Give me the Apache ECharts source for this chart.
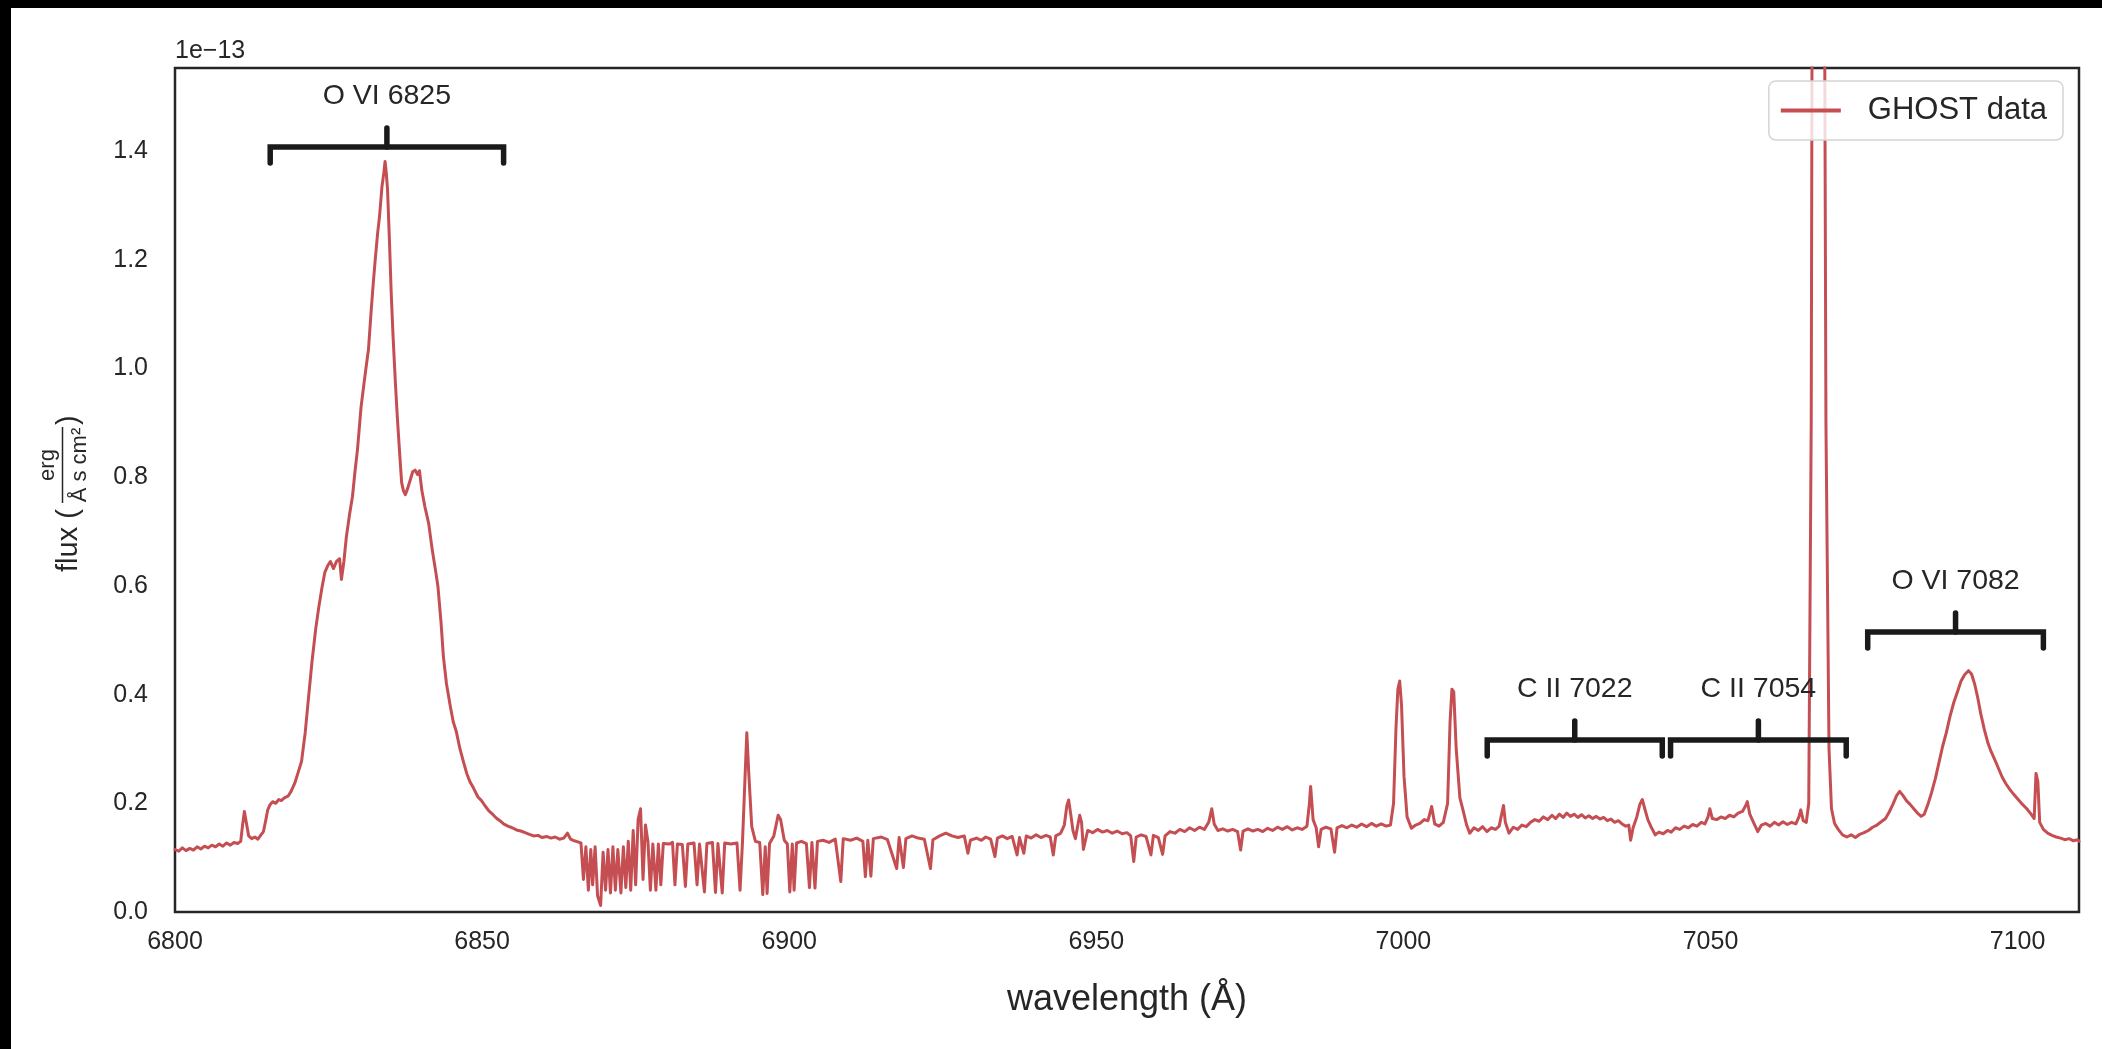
<!DOCTYPE html>
<html>
<head>
<meta charset="utf-8">
<script src="https://cdn.jsdelivr.net/npm/echarts/dist/echarts.min.js"></script>
<style>
html,body{margin:0;padding:0;background:#fff;overflow:hidden;width:2102px;height:1049px;}
#chart{position:absolute;left:0;top:0;width:2102px;height:1049px;}
#bandTop{position:absolute;left:0;top:0;width:2102px;height:8px;background:#000;z-index:5;}
#bandLeft{position:absolute;left:0;top:0;width:11px;height:1049px;background:#000;z-index:5;}
</style>
</head>
<body>
<div id="chart"></div>
<div id="bandTop"></div>
<div id="bandLeft"></div>
<script>
// ---------------- data (flux in units of 1e-13 erg / (Å s cm²)) ----------------
var wavelength = [
  // continuum + O VI 6825 blue side
  6800.0,6800.6,6801.2,6801.8,6802.4,6803.0,6803.6,6804.2,6804.8,6805.4,
  6806.0,6806.6,6807.2,6807.8,6808.4,6809.0,6809.6,6810.2,6810.7,6811.0,
  6811.3,6811.6,6812.0,6812.5,6813.0,6813.5,6814.0,6814.4,6814.8,6815.1,
  6815.5,6815.9,6816.4,6816.9,6817.3,6817.8,6818.4,6818.9,6819.5,6820.0,
  6820.6,
  // O VI 6825 peak
  6821.2,6821.7,6822.3,6822.9,6823.4,6823.9,6824.4,6824.9,6825.3,6825.8,
  6826.3,6826.8,6827.1,6827.5,6827.9,6828.4,6828.9,6829.3,6829.7,6830.3,
  6830.8,6831.2,6831.5,6831.9,6832.3,6832.6,6833.0,6833.3,6833.7,6834.0,
  6834.2,6834.4,6834.6,6834.9,6835.2,6835.5,6835.9,6836.2,6836.6,6836.9,
  6837.2,6837.5,6837.9,6838.3,6838.7,6839.1,6839.5,6839.8,6840.2,6840.7,
  6841.3,6841.9,6842.4,6842.8,6843.3,6843.7,6844.2,
  // red wing
  6844.8,6845.3,6845.8,6846.4,6847.0,6847.5,6848.0,6848.6,6849.3,6849.9,
  6850.5,6851.1,6851.7,6852.3,6852.9,6853.5,6854.2,6854.9,6855.6,6856.3,
  6857.0,6857.7,6858.4,6859.1,6859.8,6860.5,6861.2,6861.9,6862.6,6863.3,
  6863.9,6864.4,6865.0,6865.6,6866.1,
  // telluric band
  6866.5,6866.9,6867.3,6867.7,6868.0,6868.4,6868.8,6869.3,6869.7,6870.1,
  6870.5,6870.9,6871.3,6871.7,6872.1,6872.6,6873.0,6873.4,6873.8,6874.2,
  6874.6,6875.0,6875.4,6875.8,6876.2,6876.6,6877.0,6877.4,6877.8,6878.3,
  6878.7,6879.1,6879.5,6880.5,6881.0,6881.4,6881.8,6882.6,6883.1,6883.5,
  6884.5,6885.0,6885.4,6886.2,6886.6,6887.5,6888.0,6888.4,6889.1,6889.5,
  6890.5,6891.5,6892.0,6892.4,6892.8,6893.1,6893.4,6893.9,6894.5,6895.2,
  6895.7,6896.1,6896.4,6896.8,6897.5,6898.2,6898.6,6899.2,6899.7,6900.1,
  6900.5,6900.8,6901.2,6902.0,6902.8,6903.3,6903.7,6904.2,6904.6,6905.5,
  6906.5,6907.5,6908.4,6908.8,6910.0,6911.0,6912.0,6912.4,6912.8,6913.3,
  6913.7,6915.0,6916.0,6917.5,6917.9,6918.6,6919.0,6920.0,6921.0,6922.0,
  6923.0,6923.4,6924.5,6925.5,6926.5,6927.5,6928.5,6929.1,6929.5,6930.5,
  // continuum 6930-6997
  6931.3,6932.0,6932.8,6933.5,6933.9,6934.7,6935.5,6936.3,6937.1,6937.5,
  6938.2,6938.6,6939.4,6940.2,6941.0,6941.8,6942.5,6943.0,6943.4,6944.2,
  6944.8,6945.2,6945.5,6945.9,6946.2,6946.6,6947.0,6947.3,6947.6,6947.9,
  6948.6,6949.4,6950.2,6951.0,6951.8,6952.6,6953.4,6954.2,6955.0,6955.6,
  6956.1,6956.5,6957.3,6958.1,6958.9,6959.3,6960.1,6960.8,6961.2,6962.0,
  6962.8,6963.6,6964.4,6965.2,6966.0,6966.8,6967.6,6968.3,6968.8,6969.2,
  6969.8,6970.6,6971.4,6972.2,6973.0,6973.5,6973.9,6974.7,6975.5,6976.3,
  6977.1,6977.9,6978.7,6979.5,6980.3,6981.1,6981.9,6982.7,6983.5,6984.3,
  6984.7,6984.9,6985.3,6985.8,6986.2,6986.6,6987.4,6988.2,6988.8,6989.2,
  6990.0,6990.8,6991.6,6992.4,6993.2,6994.0,6994.8,6995.6,6996.4,6997.2,
  // 7000 / 7008 lines, C II region
  6997.9,6998.4,6998.8,6999.1,6999.4,6999.7,7000.1,7000.6,7001.3,7002.0,
  7002.7,7003.4,7004.0,7004.6,7005.1,7005.8,7006.5,7007.2,7007.6,7007.9,
  7008.2,7008.6,7009.2,7009.7,7010.3,7010.8,7011.5,7012.2,7012.9,7013.6,
  7014.3,7015.0,7015.6,7016.0,7016.3,7016.6,7017.2,7017.9,7018.6,7019.3,
  7020.0,7020.7,7021.4,7022.1,7022.8,7023.5,7024.2,7024.8,7025.4,7026.0,
  7026.6,7027.2,7027.8,7028.4,7029.0,7029.6,7030.2,7030.8,7031.4,7032.0,
  7032.6,7033.2,7033.8,7034.4,7035.0,7035.6,7036.2,7036.7,7037.0,7037.4,
  7038.0,7038.5,7038.9,7039.3,7039.8,7040.4,7041.0,7041.6,7042.3,7043.0,
  7043.6,7044.3,7045.0,7045.7,7046.4,7047.1,7047.8,7048.5,7049.1,7049.6,
  7049.9,7050.3,7051.0,7051.7,7052.4,7053.1,7053.8,7054.5,7055.2,7055.7,
  7056.0,7056.4,7057.0,7057.7,7058.3,7059.0,7059.7,7060.4,7061.1,7061.8,
  7062.5,7063.2,7063.9,7064.4,7064.7,7065.1,7065.6,7066.0,
  // saturated line + O VI 7082
  7066.4,7066.8,7068.2,7068.8,7069.3,7069.7,7070.2,7070.8,7071.5,7072.2,
  7072.9,7073.6,7074.3,7075.0,7075.7,7076.4,7077.1,7077.8,7078.5,7079.1,
  7079.7,7080.3,7080.8,7081.3,7081.9,7082.5,7083.1,7083.7,7084.3,7084.8,
  7085.4,7086.0,7086.6,7087.2,7087.8,7088.4,7089.0,7089.6,7090.2,7090.8,
  7091.4,7092.0,7092.5,7093.0,7093.5,7094.0,7094.6,7095.2,7095.7,7096.3,
  7096.9,7097.5,7098.1,7098.7,7099.4,7100.1,7100.8,7101.5,7102.2,7102.7,
  7103.0,7103.3,7103.6,7104.2,7104.9,7105.6,7106.3,7107.0,7107.7,7108.4,
  7109.1,7109.8,7110.0
];

var flux = [
  0.115,0.112,0.118,0.113,0.117,0.114,0.12,0.116,0.121,0.118,
  0.123,0.12,0.125,0.121,0.127,0.123,0.128,0.126,0.13,0.16,
  0.185,0.165,0.14,0.135,0.138,0.134,0.142,0.148,0.17,0.188,
  0.198,0.203,0.2,0.207,0.205,0.21,0.213,0.222,0.237,0.255,
  0.277,
  0.33,0.39,0.46,0.52,0.56,0.595,0.625,0.638,0.645,0.632,
  0.645,0.65,0.612,0.645,0.69,0.73,0.765,0.81,0.85,0.93,
  0.975,1.01,1.035,1.1,1.16,1.2,1.25,1.28,1.335,1.36,
  1.381,1.36,1.33,1.24,1.14,1.06,0.97,0.91,0.84,0.79,
  0.775,0.768,0.78,0.795,0.81,0.813,0.805,0.812,0.775,0.745,
  0.715,0.665,0.63,0.6,0.535,0.47,0.42,
  0.38,0.35,0.332,0.3,0.275,0.255,0.24,0.228,0.212,0.205,
  0.195,0.186,0.18,0.173,0.168,0.162,0.158,0.155,0.151,0.149,
  0.146,0.143,0.14,0.141,0.137,0.139,0.136,0.138,0.134,0.136,
  0.145,0.134,0.131,0.129,0.127,
  0.06,0.12,0.04,0.115,0.05,0.12,0.03,0.012,0.11,0.04,
  0.115,0.035,0.12,0.04,0.115,0.035,0.12,0.045,0.13,0.04,
  0.15,0.05,0.17,0.19,0.06,0.16,0.13,0.04,0.125,0.04,
  0.125,0.05,0.126,0.125,0.128,0.05,0.125,0.124,0.047,0.125,
  0.127,0.05,0.125,0.037,0.126,0.128,0.036,0.126,0.035,0.127,
  0.125,0.127,0.04,0.13,0.245,0.33,0.26,0.157,0.13,0.128,
  0.032,0.12,0.034,0.126,0.14,0.178,0.17,0.132,0.125,0.037,
  0.125,0.04,0.127,0.13,0.126,0.045,0.128,0.044,0.13,0.132,
  0.128,0.134,0.056,0.135,0.132,0.136,0.13,0.065,0.132,0.066,
  0.135,0.138,0.133,0.08,0.137,0.082,0.135,0.14,0.136,0.134,
  0.08,0.133,0.14,0.145,0.14,0.137,0.14,0.108,0.132,0.136,
  0.132,0.138,0.134,0.102,0.136,0.14,0.135,0.139,0.105,0.137,
  0.108,0.14,0.136,0.142,0.137,0.141,0.138,0.105,0.14,0.145,
  0.16,0.195,0.206,0.175,0.15,0.135,0.16,0.178,0.165,0.115,
  0.15,0.146,0.152,0.147,0.15,0.145,0.149,0.144,0.146,0.14,
  0.093,0.138,0.142,0.139,0.105,0.141,0.137,0.106,0.14,0.148,
  0.145,0.152,0.148,0.155,0.15,0.156,0.152,0.165,0.19,0.162,
  0.15,0.153,0.149,0.152,0.148,0.114,0.149,0.153,0.149,0.152,
  0.148,0.154,0.15,0.156,0.152,0.157,0.151,0.155,0.152,0.158,
  0.2,0.231,0.17,0.155,0.12,0.152,0.156,0.153,0.11,0.155,
  0.159,0.155,0.16,0.156,0.162,0.157,0.163,0.158,0.162,0.158,
  0.16,0.2,0.34,0.41,0.425,0.38,0.25,0.175,0.154,0.16,
  0.163,0.17,0.168,0.194,0.162,0.158,0.165,0.2,0.35,0.41,
  0.405,0.3,0.21,0.188,0.16,0.145,0.155,0.15,0.157,0.148,
  0.155,0.152,0.158,0.18,0.196,0.165,0.145,0.156,0.152,0.16,
  0.157,0.165,0.17,0.167,0.175,0.17,0.178,0.172,0.18,0.174,
  0.182,0.176,0.18,0.174,0.179,0.173,0.177,0.172,0.176,0.171,
  0.174,0.168,0.171,0.165,0.168,0.162,0.158,0.16,0.132,0.155,
  0.175,0.198,0.207,0.19,0.17,0.155,0.142,0.147,0.144,0.15,
  0.147,0.155,0.152,0.158,0.155,0.161,0.158,0.165,0.162,0.175,
  0.19,0.172,0.17,0.175,0.172,0.178,0.175,0.182,0.185,0.195,
  0.203,0.18,0.165,0.148,0.16,0.163,0.158,0.165,0.16,0.166,
  0.161,0.165,0.162,0.175,0.188,0.168,0.165,0.2,
  0.9,3.0,3.0,0.9,0.3,0.19,0.163,0.152,0.142,0.138,
  0.142,0.137,0.143,0.146,0.15,0.156,0.16,0.166,0.172,0.184,
  0.198,0.214,0.222,0.215,0.205,0.198,0.19,0.182,0.176,0.18,
  0.198,0.22,0.245,0.275,0.305,0.33,0.36,0.385,0.405,0.425,
  0.437,0.444,0.438,0.42,0.395,0.365,0.335,0.31,0.295,0.28,
  0.264,0.248,0.236,0.226,0.216,0.207,0.198,0.19,0.18,0.172,
  0.255,0.24,0.165,0.152,0.145,0.141,0.138,0.136,0.133,0.135,
  0.131,0.133,0.13
];

// line identification brackets
var annLabels     = ['O VI 6825', 'C II 7022', 'C II 7054', 'O VI 7082'];
var annCenters    = [6834.5, 7027.9, 7057.8, 7089.9];
var annHalfWidths = [19.0, 14.25, 14.3, 14.3];
var annLevels     = [1.4075, 0.3165, 0.3165, 0.515];

var xTickValues = [6800, 6850, 6900, 6950, 7000, 7050, 7100];
var yTickValues = [0.0, 0.2, 0.4, 0.6, 0.8, 1.0, 1.2, 1.4];
var seriesName = 'GHOST data';

// ---------------- chart ----------------
var FONT = '"Liberation Sans", Arial, Helvetica, sans-serif';
var TXT = '#262626';
var RED = '#c44e52';

var n = Math.min(wavelength.length, flux.length);
var lineData = [];
for (var i = 0; i < n; i++) lineData.push([wavelength[i], flux[i]]);

var annData = annCenters.map(function (c, i) { return [c, annLevels[i], annHalfWidths[i], i]; });

var chart = echarts.init(document.getElementById('chart'), null, { renderer: 'canvas' });

chart.setOption({
  animation: false,
  backgroundColor: '#ffffff',
  grid: {
    left: 175, right: 23, top: 68, bottom: 137,
    show: true, borderColor: TXT, borderWidth: 2.5, backgroundColor: 'transparent',
    containLabel: false, outerBoundsMode: 'none'
  },
  legend: {
    data: [seriesName],
    right: 39, top: 81,
    icon: 'rect', itemWidth: 60, itemHeight: 4,
    backgroundColor: 'rgba(255,255,255,0.8)',
    borderColor: '#d4d4d4', borderWidth: 1.5, borderRadius: 7,
    padding: [14, 16, 14, 12],
    textStyle: { fontSize: 31, color: TXT, fontFamily: FONT, padding: [0, 0, 0, 22] }
  },
  xAxis: {
    type: 'value', min: 6800, max: 7110, interval: 50,
    axisLine: { show: false }, axisTick: { show: false }, splitLine: { show: false },
    axisLabel: {
      margin: 18, fontSize: 25, color: TXT, fontFamily: FONT,
      formatter: function (v) { return xTickValues.indexOf(v) >= 0 ? String(v) : ''; }
    },
    name: 'wavelength (Å)', nameLocation: 'middle', nameGap: 70,
    nameTextStyle: { fontSize: 36, color: TXT, fontFamily: FONT }
  },
  yAxis: {
    type: 'value', min: 0, max: 1.553, interval: 0.2,
    axisLine: { show: false }, axisTick: { show: false }, splitLine: { show: false },
    axisLabel: {
      margin: 27, fontSize: 25, color: TXT, fontFamily: FONT,
      formatter: function (v) {
        for (var k = 0; k < yTickValues.length; k++) {
          if (Math.abs(v - yTickValues[k]) < 1e-6) return yTickValues[k].toFixed(1);
        }
        return '';
      }
    },
    name: '1e\u221213', nameLocation: 'end', nameGap: 4,
    nameTextStyle: { fontSize: 25, color: TXT, fontFamily: FONT, align: 'left', verticalAlign: 'bottom' }
  },
  series: [
    {
      name: seriesName, type: 'line', data: lineData,
      showSymbol: false, symbol: 'none', clip: true,
      lineStyle: { color: RED, width: 3.0, join: 'round', cap: 'round' },
      itemStyle: { color: RED },
      z: 2
    },
    {
      type: 'custom', data: annData, clip: false, silent: true, z: 5,
      encode: { x: 0, y: 1 },
      renderItem: function (params, api) {
        var c = api.value(0), lvl = api.value(1), hw = api.value(2), idx = api.value(3);
        var pl = api.coord([c - hw, lvl]);
        var pr = api.coord([c + hw, lvl]);
        var pc = api.coord([c, lvl]);
        var st = { stroke: '#1a1a1a', lineWidth: 5.5, fill: 'none', lineJoin: 'miter', lineCap: 'round' };
        return {
          type: 'group',
          children: [
            { type: 'polyline', shape: { points: [[pl[0], pl[1] + 16], [pl[0], pl[1]], [pr[0], pr[1]], [pr[0], pr[1] + 16]] }, style: st },
            { type: 'line', shape: { x1: pc[0], y1: pc[1], x2: pc[0], y2: pc[1] - 19 }, style: st },
            { type: 'text', x: pc[0], y: pc[1] - 51,
              style: { text: annLabels[idx], font: '28.5px ' + FONT, fill: TXT,
                       textAlign: 'center', textVerticalAlign: 'middle', align: 'center', verticalAlign: 'middle' } }
          ]
        };
      }
    }
  ],
  graphic: [
    {
      type: 'group', x: 69, y: 572, rotation: Math.PI / 2, silent: true,
      children: [
        { type: 'text', x: 0, y: 0, style: { text: 'flux (', font: '29px ' + FONT, fill: TXT, textAlign: 'left', align: 'left', textVerticalAlign: 'middle', verticalAlign: 'middle' } },
        { type: 'text', x: 107, y: -21, style: { text: 'erg', font: '22px ' + FONT, fill: TXT, textAlign: 'center', align: 'center', textVerticalAlign: 'middle', verticalAlign: 'middle' } },
        { type: 'line', shape: { x1: 69, y1: -6.5, x2: 145, y2: -6.5 }, style: { stroke: TXT, lineWidth: 1.5 } },
        { type: 'text', x: 107, y: 11, style: { text: 'Å s cm²', font: '22px ' + FONT, fill: TXT, textAlign: 'center', align: 'center', textVerticalAlign: 'middle', verticalAlign: 'middle' } },
        { type: 'text', x: 147, y: 0, style: { text: ')', font: '29px ' + FONT, fill: TXT, textAlign: 'left', align: 'left', textVerticalAlign: 'middle', verticalAlign: 'middle' } }
      ]
    }
  ]
});
</script>
</body>
</html>
